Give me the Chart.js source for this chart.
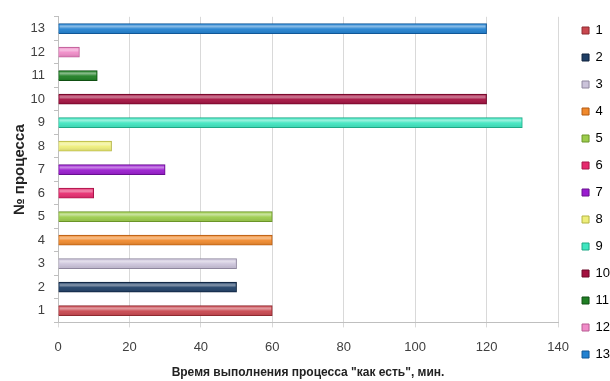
<!DOCTYPE html>
<html>
<head>
<meta charset="utf-8">
<script src="https://cdn.jsdelivr.net/npm/chart.js@4/dist/chart.umd.min.js"></script>
<style>
  html, body { margin: 0; padding: 0; background: #fff; }
  #wrap { width: 610px; height: 381px; position: relative; }
</style>
</head>
<body>
<div id="wrap"><canvas id="c"></canvas></div>
<script>
// Process numbers and their "as is" execution time, minutes
const processes = ['1','2','3','4','5','6','7','8','9','10','11','12','13'];
const minutes   = [60, 50, 50, 60, 60, 10, 30, 15, 130, 120, 11, 6, 120];
const barColors = ['#c9474f','#1f3f66','#cbc3da','#f0892c','#9ccc4c','#e62a6e',
                   '#9a1ccf','#eeee7a','#3fe6c0','#a3103f','#1f7f24','#f08cc8','#2181d1'];
const borderColors = ['#8e2a30','#10233d','#8f879e','#b35a12','#6b9428','#a8164a',
                      '#68108f','#b4b444','#1fa885','#6c0828','#0f4f12','#b85a92','#125796'];
const xTicks = [0, 20, 40, 60, 80, 100, 120, 140];

// Soft highlight stripe on each bar for a rounded, tube-like look
const tubeShine = {
  id: 'tubeShine',
  afterDatasetsDraw(chart) {
    const ctx = chart.ctx;
    chart.getDatasetMeta(0).data.forEach(bar => {
      const { x, y, base, height } = bar.getProps(['x','y','base','height'], true);
      const top = y - height / 2;
      ctx.save();
      const g = ctx.createLinearGradient(0, top, 0, top + height);
      g.addColorStop(0, 'rgba(255,255,255,0.10)');
      g.addColorStop(0.3, 'rgba(255,255,255,0.45)');
      g.addColorStop(0.55, 'rgba(255,255,255,0.05)');
      g.addColorStop(1, 'rgba(0,0,0,0.15)');
      ctx.fillStyle = g;
      ctx.fillRect(Math.min(base, x) + 1, top + 1, Math.abs(x - base) - 2, height - 2);
      ctx.restore();
    });
  }
};

// Leave a little more room between the plot and the legend column
const legendGap = {
  id: 'legendGap',
  afterLayout(chart) {
    const lg = chart.legend;
    if (lg) { lg.left += 10; lg.right += 10; }
  }
};

new Chart(document.getElementById('c'), {
  type: 'bar',
  data: {
    labels: processes,
    datasets: [{
      data: minutes,
      backgroundColor: barColors,
      borderColor: borderColors,
      borderWidth: 1,
      barThickness: 10
    }]
  },
  options: {
    indexAxis: 'y',
    responsive: true,
    maintainAspectRatio: false,
    animation: false,
    layout: { padding: { top: 4, right: 0, bottom: 0, left: 0 } },
    plugins: {
      tooltip: { enabled: false },
      legend: {
        position: 'right',
        maxWidth: 54,
        labels: {
          boxWidth: 7,
          boxHeight: 7,
          padding: 14,
          color: '#404040',
          font: { family: 'Liberation Sans', size: 13 },
          generateLabels(chart) {
            const ds = chart.data.datasets[0];
            return chart.data.labels.map((l, i) => ({
              text: l,
              fillStyle: ds.backgroundColor[i],
              strokeStyle: ds.borderColor[i],
              lineWidth: 1,
              index: i
            }));
          }
        }
      }
    },
    scales: {
      x: {
        min: 0,
        max: 140,
        afterBuildTicks(axis) { axis.ticks = xTicks.map(v => ({ value: v })); },
        grid: { color: '#d9d9d9', tickLength: 5, drawTicks: true },
        border: { color: '#bfbfbf' },
        ticks: { color: '#404040', font: { family: 'Liberation Sans', size: 13 }, padding: 12 },
        title: {
          display: true,
          text: 'Время выполнения процесса "как есть", мин.',
          color: '#222',
          font: { family: 'Liberation Sans', size: 12, weight: 'bold', lineHeight: 1 },
          padding: { top: 0, bottom: 2 }
        }
      },
      y: {
        reverse: true,
        offset: true,
        afterFit(axis) { axis.width = 58; },
        grid: { offset: true, drawOnChartArea: false, tickLength: 4, color: '#bfbfbf' },
        border: { color: '#bfbfbf' },
        ticks: { color: '#404040', font: { family: 'Liberation Sans', size: 13 }, padding: 9 },
        title: {
          display: true,
          text: '№ процесса',
          color: '#222',
          font: { family: 'Liberation Sans', size: 15, weight: 'bold' },
          padding: { top: 11, bottom: 2 }
        }
      }
    }
  },
  plugins: [tubeShine, legendGap]
});
</script>
</body>
</html>
